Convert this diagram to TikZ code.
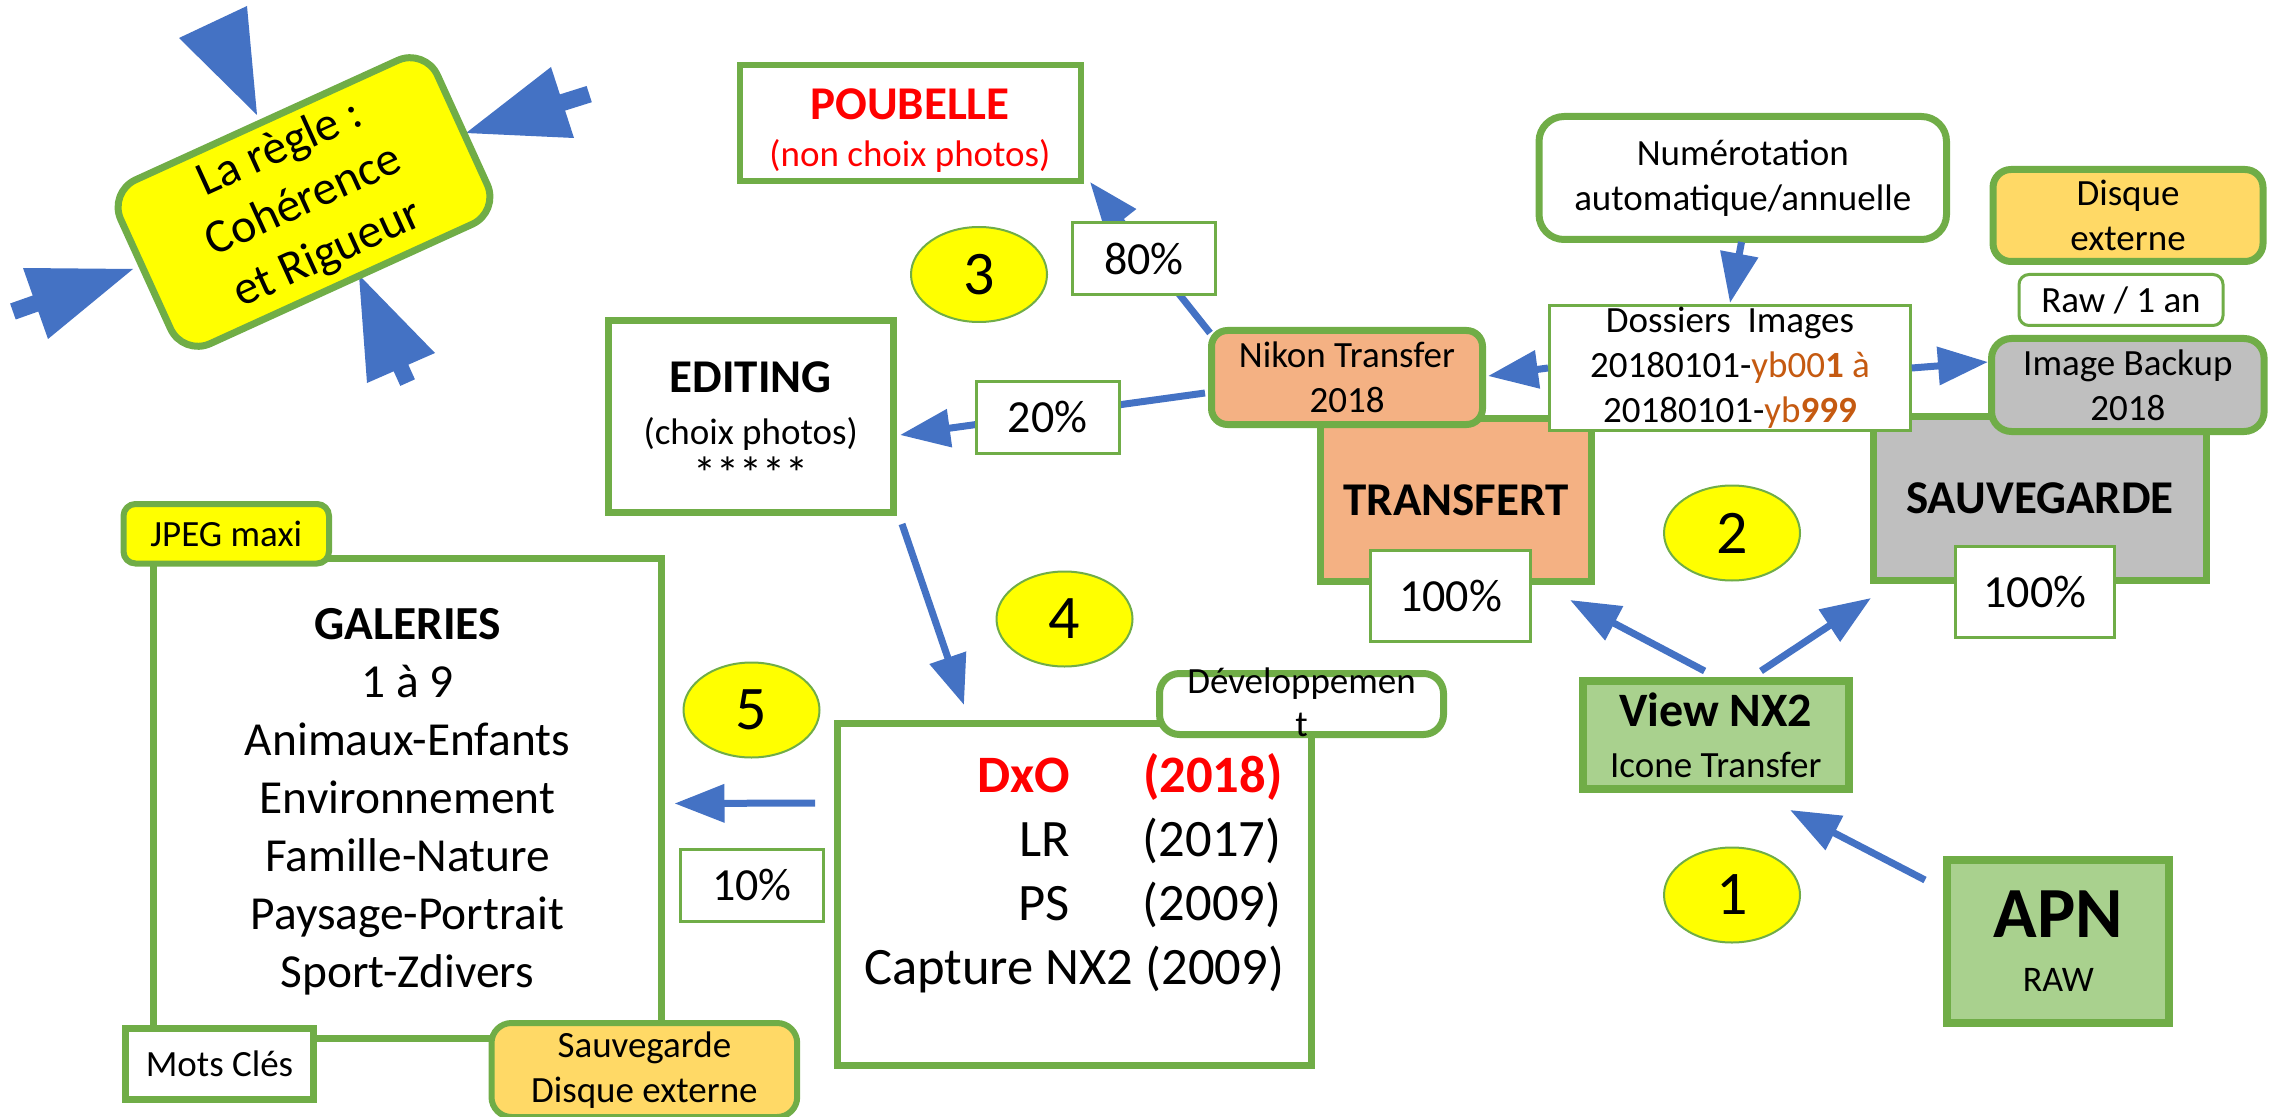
\documentclass[tikz,border=0pt]{standalone}
\usepackage{fontspec}
\setmainfont{Carlito}
\usetikzlibrary{shapes.geometric,arrows.meta}
\definecolor{grn}{HTML}{70AD47}
\definecolor{arrblue}{HTML}{4472C4}
\definecolor{ylw}{HTML}{FFFF00}
\definecolor{orgfill}{HTML}{F4B183}
\definecolor{grayfill}{HTML}{BFBFBF}
\definecolor{ltgrn}{HTML}{A9D18E}
\definecolor{gold}{HTML}{FFD966}
\definecolor{orgtxt}{HTML}{C55A11}
\definecolor{redtxt}{HTML}{FF0000}
\newcommand{\fsS}{\fontsize{18.5}{22.5}\selectfont}
\newcommand{\fsM}{\fontsize{23.5}{29}\selectfont}
\newcommand{\fsP}{\fontsize{23}{28}\selectfont}
\tikzset{
  bigbox/.style={draw=grn, line width=3.5pt, inner sep=0pt, outer sep=0pt, align=center},
  thinbox/.style={draw=grn, line width=1.5pt, fill=white, inner sep=0pt, outer sep=0pt, align=center},
  numell/.style={ellipse, draw=grn, line width=1pt, fill=ylw, minimum width=68pt, minimum height=47.5pt, inner sep=0pt, font=\fontsize{31}{36}\selectfont},
  conn/.style={draw=arrblue, line width=3.5pt, -{Triangle[length=25pt,width=18.5pt]}},
  plaintext/.style={inner sep=0pt, outer sep=0pt, align=center}
}
\begin{document}
\begin{tikzpicture}[x=0.5pt,y=-0.5pt]
\useasboundingbox (0,0) rectangle (2273,1117);
\clip (0,0) rectangle (2273,1117);

% rule box and its decorative arrows
\fill[arrblue] (257,115) -- (179,38) -- (247,6) -- cycle;
\fill[arrblue] (466,133) -- (551,67) -- (559.9,94.4) -- (586.6,86.0) -- (591.8,102.2) -- (565.1,110.6) -- (574,138) -- cycle;
\fill[arrblue] (133,269) -- (48,339) -- (38.3,311.5) -- (15.7,319.5) -- (10.1,303.5) -- (32.7,295.5) -- (23,268) -- cycle;
\fill[arrblue] (359,275) -- (435,353) -- (408.3,364.7) -- (414.9,379.3) -- (400.3,385.9) -- (393.7,371.3) -- (367,383) -- cycle;
\node[bigbox, fill=ylw, rounded corners=15pt, rotate=24.5, minimum width=174pt, minimum height=90pt, font=\fontsize{24}{29}\selectfont] (rule) at (304,202) {La règle :\\Cohérence\\et Rigueur};

% base boxes
\node[bigbox, fill=orgfill, minimum width=135.5pt, minimum height=81.5pt, font=\fsM\bfseries] (trans) at (1456,500) {TRANSFERT};
\node[bigbox, fill=grayfill, minimum width=166.5pt, minimum height=82pt, font=\fsM\bfseries] (sauv) at (2040,498.5) {SAUVEGARDE};
\node[bigbox, fill=orgfill, rounded corners=8pt, minimum width=135.5pt, minimum height=47pt, font=\fsS] (nikon) at (1347,377.5) {Nikon Transfer\\2018};
\node[thinbox, minimum width=180.5pt, minimum height=62.5pt, font=\fsS] (dos) at (1730,368) {Dossiers\ \ Images\\20180101-{\color{orgtxt}yb00\textbf{1} à}\\20180101-{\color{orgtxt}yb\textbf{999}}};
\node[bigbox, fill=grayfill, rounded corners=10pt, minimum width=136.3pt, minimum height=46.5pt, font=\fsS] (bup) at (2127.8,385) {Image Backup\\2018};
\node[bigbox, fill=gold, rounded corners=9pt, minimum width=135pt, minimum height=46pt, font=\fsS] (disk) at (2128,215.5) {Disque\\externe};
\node[thinbox, rounded corners=5pt, minimum width=102pt, minimum height=25.5pt, font=\fsS] (raw) at (2121,300) {Raw / 1 an};
\node[bigbox, fill=white, rounded corners=12.5pt, minimum width=203.75pt, minimum height=61.5pt, font=\fsS] (num) at (1742.75,178) {Numérotation\\automatique/annuelle};
\node[thinbox, minimum width=80pt, minimum height=45.5pt, font=\fsP] (t100) at (1450.5,596) {100\%};
\node[thinbox, minimum width=79.25pt, minimum height=45.5pt, font=\fsP] (s100) at (2035,592) {100\%};

\node[bigbox, line width=3pt, fill=white, minimum width=170.5pt, minimum height=58pt, text=redtxt, font=\fsS] (poub) at (910,123.5) {{\fsM\bfseries\rule{0pt}{22pt}POUBELLE}\\[1pt](non choix photos)};
\node[bigbox, fill=white, minimum width=142.25pt, minimum height=96pt, font=\fsS] (edit) at (750.75,416.5) {{\fsM\bfseries\rule{0pt}{24pt}EDITING}\\[3.5pt](choix photos)\\{\fontsize{23}{28}\selectfont *****}};

\node[bigbox, fill=white, minimum width=237pt, minimum height=171pt] (dxo) at (1074.1,894.5) {};
\node[plaintext, font=\fontsize{26.3}{32}\selectfont] (dxotext) at (1074,873.5) {%
\makebox[100pt][r]{\color{redtxt}\bfseries DxO}\hspace{36.5pt}\makebox[67.5pt][l]{\color{redtxt}\bfseries (2018)}\\
\makebox[100pt][r]{LR}\hspace{36.5pt}\makebox[67.5pt][l]{(2017)}\\
\makebox[100pt][r]{PS}\hspace{36.5pt}\makebox[67.5pt][l]{(2009)}\\
Capture NX2 (2009)};
\node[bigbox, fill=white, rounded corners=10pt, minimum width=142pt, minimum height=30.5pt] (dev) at (1301.5,704) {};
\node[plaintext, font=\fontsize{18.5}{21.5}\selectfont] (devtext) at (1301.5,702.5) {Développemen\\t};

\node[bigbox, fill=white, minimum width=254pt, minimum height=240pt, font=\fontsize{23.7}{29}\selectfont] (gal) at (407.5,798.5) {\textbf{\rule{0pt}{19pt}GALERIES}\\1 à 9\\Animaux-Enfants\\Environnement\\Famille-Nature\\Paysage-Portrait\\Sport-Zdivers};
\node[bigbox, line width=3pt, fill=ylw, rounded corners=6pt, minimum width=102.75pt, minimum height=29.75pt, font=\fsS] (jpeg) at (226.25,533.75) {JPEG maxi};
\node[bigbox, fill=white, minimum width=94pt, minimum height=35.5pt, font=\fsS] (mots) at (219.5,1064) {Mots Clés};
\node[bigbox, line width=3pt, fill=gold, rounded corners=10pt, minimum width=152.85pt, minimum height=47pt, font=\fsS] (sdisk) at (644.35,1070) {Sauvegarde\\Disque externe};

\node[bigbox, line width=4pt, fill=ltgrn, minimum width=133.25pt, minimum height=54.3pt, font=\fsS] (view) at (1715.75,734.8) {{\fontsize{24}{29}\selectfont\bfseries View NX2}\\[3pt]Icone Transfer};
\node[bigbox, line width=4pt, fill=ltgrn, minimum width=111pt, minimum height=81.5pt, font=\fontsize{18}{22}\selectfont] (apn) at (2058.35,941) {{\fontsize{36}{43}\selectfont\bfseries APN}\\[5pt]RAW};

% numbered steps
\node[numell] (n1) at (1732,895) {1};
\node[numell] (n2) at (1732,533) {2};
\node[numell] (n3) at (979,274.5) {3};
\node[numell] (n4) at (1064.5,619) {4};
\node[numell] (n5) at (751.5,710) {5};

% connectors
\draw[conn] ([shift={(-133.35,-61)}]apn.center) -- ([shift={(74.25,75.2)}]view.center);
\draw[conn] ([shift={(-11.15,-63.8)}]view.center) -- ([shift={(114,100)}]trans.center);
\draw[conn] ([shift={(45.25,-63.8)}]view.center) -- ([shift={(-169,99.5)}]sauv.center);
\draw[conn] ([shift={(-1.25,64)}]num.center) -- ([shift={(0,-65)}]dos.center);
\draw[conn] ([shift={(181.7,0)}]dos.center) -- ([shift={(-139.8,-23)}]bup.center);
\draw[conn] ([shift={(-182,0)}]dos.center) -- ([shift={(141,-1.5)}]nikon.center);
\draw[conn] ([shift={(-137,-44.5)}]nikon.center) -- ([shift={(180,58.5)}]poub.center);
\draw[conn] ([shift={(-142,15.5)}]nikon.center) -- ([shift={(149.25,18.5)}]edit.center);
\draw[conn] ([shift={(151.25,107.5)}]edit.center) -- ([shift={(-110.1,-189.5)}]dxo.center);
\draw[conn] ([shift={(-259.1,-91.5)}]dxo.center) -- ([shift={(267,5)}]gal.center);

% percentage labels on top of connectors
\node[thinbox, minimum width=71.5pt, minimum height=36pt, font=\fsP] (p80) at (1144,258.5) {80\%};
\node[thinbox, minimum width=71.5pt, minimum height=36pt, font=\fsP] (p20) at (1047.5,417.5) {20\%};
\node[thinbox, minimum width=71.75pt, minimum height=35.75pt, font=\fsP] (p10) at (751.75,885.25) {10\%};
\end{tikzpicture}
\end{document}
